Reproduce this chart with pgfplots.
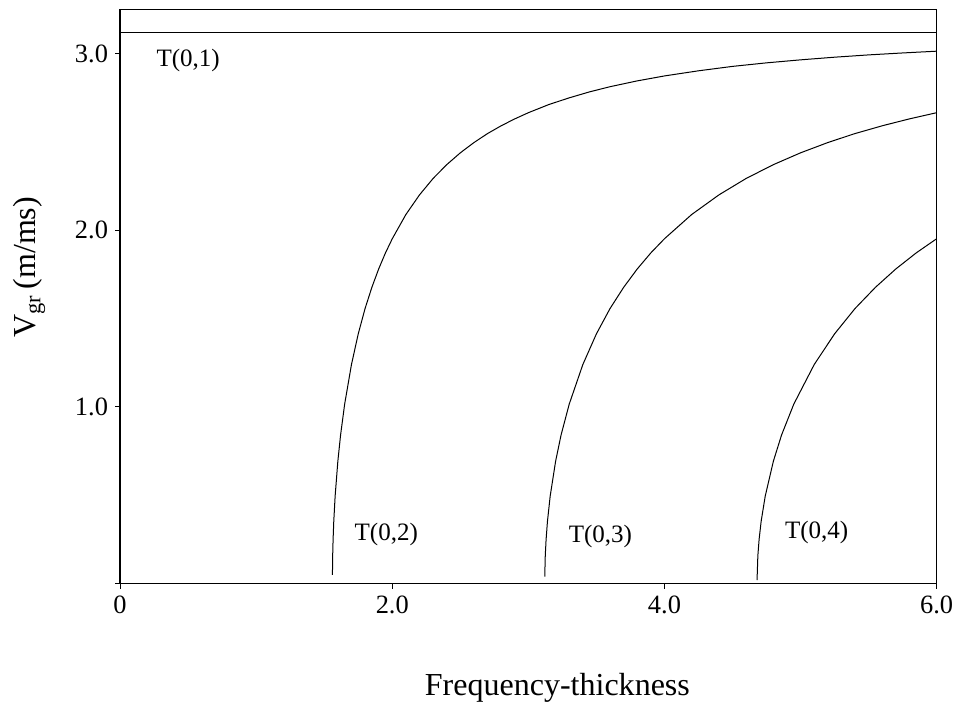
\documentclass[border=0pt]{standalone}
\usepackage{fontspec}
\setmainfont{Liberation Serif}
\usepackage{pgfplots}
\pgfplotsset{compat=1.18}
\begin{document}
\begin{tikzpicture}
\begin{axis}[
  scale only axis,
  width=408pt, height=287pt,
  xmin=0, xmax=6, ymin=0, ymax=3.25,
  axis line style={line width=0.7pt},
  xtick={0,2,4,6}, xticklabels={0,2.0,4.0,6.0},
  ytick={0,1,2,3}, yticklabels={,1.0,2.0,3.0},
  tick align=outside, tick pos=left,
  major tick length=2.5pt,
  every tick/.style={black, line width=0.5pt},
  /pgf/number format/assume math mode=true,
  ticklabel style={font=\fontsize{13.2}{16}\selectfont},
  xlabel={Frequency-thickness},
  ylabel={V\textsubscript{gr}\,(m/ms)},
  label style={font=\fontsize{16}{19}\selectfont},
  xlabel style={at={(axis description cs:0.5355,0)}, anchor=base, yshift=-56pt},
  ylabel style={at={(axis description cs:-0.1115,0.551)}, anchor=center, rotate=0},
  clip=false,
]
\addplot[black, line width=0.5pt] coordinates {(0,3.12) (6,3.12)};
\addplot[black, line width=0.5pt] coordinates {
(1.5602,0.05) (1.562,0.158) (1.565,0.249) (1.57,0.352) (1.58,0.495) (1.6,0.693) (1.62,0.841) (1.65,1.016) (1.7,1.240) (1.75,1.414) (1.8,1.557) (1.85,1.677) (1.9,1.781) (1.95,1.872) (2.0,1.952) (2.1,2.089) (2.2,2.200) (2.3,2.293) (2.4,2.371) (2.5,2.438) (2.6,2.496) (2.7,2.547) (2.8,2.591) (2.9,2.630) (3.0,2.665) (3.15,2.711) (3.3,2.749) (3.45,2.783) (3.6,2.812) (3.8,2.845) (4.0,2.873) (4.25,2.902) (4.5,2.927) (4.75,2.947) (5.0,2.964) (5.25,2.979) (5.5,2.992) (5.75,3.003) (6.0,3.013)};
\addplot[black, line width=0.5pt] coordinates {
(3.1203,0.04) (3.124,0.158) (3.13,0.249) (3.14,0.352) (3.16,0.495) (3.2,0.693) (3.24,0.841) (3.3,1.016) (3.4,1.240) (3.5,1.414) (3.6,1.557) (3.7,1.677) (3.8,1.781) (3.9,1.872) (4.0,1.952) (4.2,2.089) (4.4,2.200) (4.6,2.293) (4.8,2.371) (5.0,2.438) (5.2,2.496) (5.4,2.547) (5.6,2.591) (5.8,2.630) (6.0,2.665)};
\addplot[black, line width=0.5pt] coordinates {
(4.6801,0.02) (4.686,0.158) (4.695,0.249) (4.71,0.352) (4.74,0.495) (4.8,0.693) (4.86,0.841) (4.95,1.016) (5.1,1.240) (5.25,1.414) (5.4,1.557) (5.55,1.677) (5.7,1.781) (5.85,1.872) (6.0,1.952)};
\node[font=\fontsize{12.5}{15}\selectfont] at (axis cs:0.50,2.962) {T(0,1)};
\node[font=\fontsize{12.5}{15}\selectfont] at (axis cs:1.956,0.279) {T(0,2)};
\node[font=\fontsize{12.5}{15}\selectfont] at (axis cs:3.529,0.268) {T(0,3)};
\node[font=\fontsize{12.5}{15}\selectfont] at (axis cs:5.118,0.290) {T(0,4)};
\coordinate (bl) at (rel axis cs:0,0);
\coordinate (tr) at (rel axis cs:1,1);
\end{axis}
\pgfresetboundingbox
\path[use as bounding box] ([shift={(-60pt,-60.35pt)}]bl) rectangle ([shift={(8.15pt,4.65pt)}]tr);
\end{tikzpicture}
\end{document}
